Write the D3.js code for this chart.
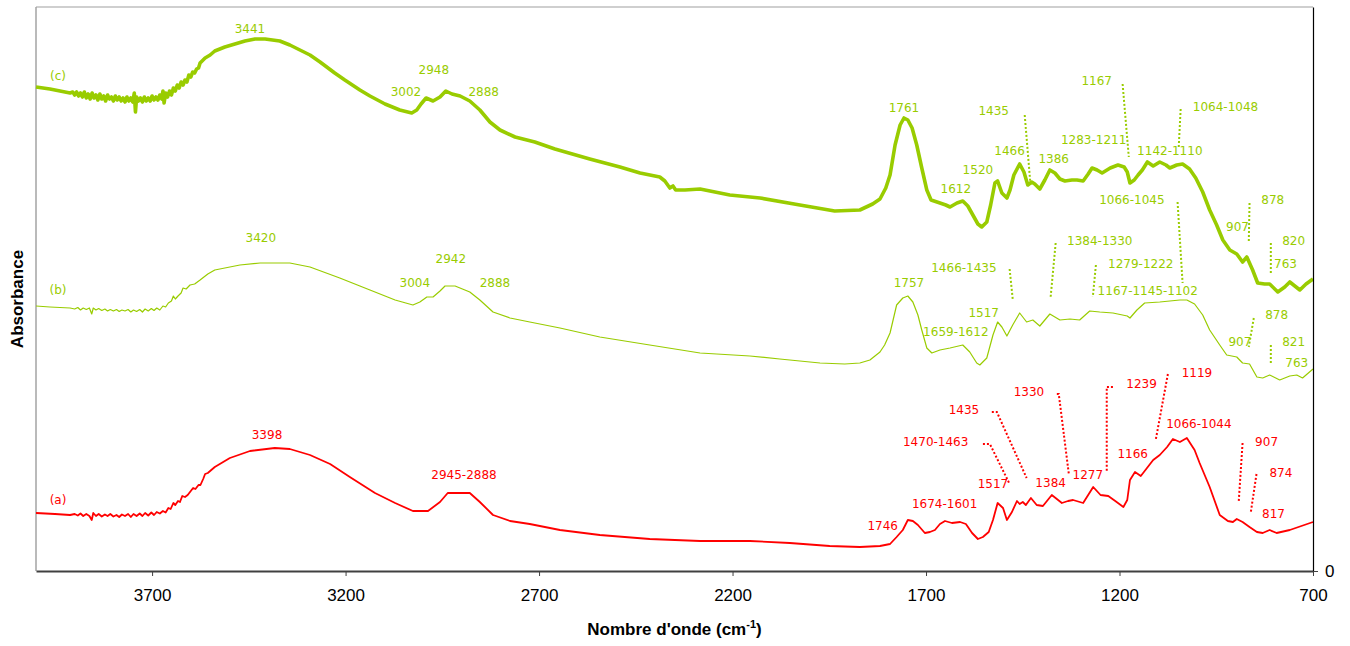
<!DOCTYPE html>
<html>
<head>
<meta charset="utf-8">
<script src="https://cdn.jsdelivr.net/npm/d3@7"></script>
<style>
  html, body { margin: 0; padding: 0; background: #fff; }
  svg { display: block; }
  .tick-label { font-family: "Liberation Sans", Arial, sans-serif; font-size: 17px; fill: #000; }
  .axis-title { font-family: "Liberation Sans", Arial, sans-serif; font-size: 17px; font-weight: bold; fill: #000; }
  .peak { font-family: "DejaVu Sans", Tahoma, sans-serif; font-size: 12px; }
</style>
</head>
<body>
<div id="chart"></div>
<script>
// Spectrum (a) — wavenumber (cm-1) / absorbance (a.u.)
const wnA = [4000,3951,3912,3900,3892,3885,3878,3870,3862,3856,3852,3845,3838,3830,3822,3815,3808,3800,3792,3785,3778,3770,3762,3755,3748,3740,3732,3725,3718,3710,3702,3695,3688,3680,3672,3665,3658,3652,3645,3640,3633,3628,3622,3615,3608,3600,3594,3588,3580,3575,3568,3563,3556,3550,3538,3499,3447,3383,3344,3292,3240,3189,3124,3072,3026,2987,2956,2936,2879,2853,2819,2775,2724,2646,2543,2414,2284,2155,2052,1949,1871,1819,1793,1776,1760,1747,1734,1721,1703,1690,1677,1664,1651,1633,1612,1597,1581,1566,1553,1538,1527,1515,1501,1491,1478,1465,1458,1450,1442,1429,1414,1398,1375,1349,1333,1320,1294,1281,1268,1249,1229,1211,1190,1180,1173,1160,1145,1129,1113,1096,1077,1062,1044,1026,1006,993,967,941,920,907,897,882,864,845,830,812,794,760,700];
const absA = [0.58,0.57,0.56,0.57,0.555,0.575,0.55,0.57,0.55,0.51,0.58,0.55,0.57,0.545,0.565,0.55,0.57,0.545,0.56,0.54,0.565,0.55,0.57,0.54,0.57,0.55,0.575,0.55,0.58,0.555,0.585,0.56,0.59,0.575,0.60,0.585,0.63,0.62,0.68,0.66,0.70,0.69,0.75,0.74,0.76,0.80,0.83,0.82,0.86,0.86,0.92,0.97,0.98,1.00,1.04,1.13,1.20,1.23,1.22,1.16,1.07,0.94,0.78,0.68,0.60,0.60,0.69,0.78,0.78,0.69,0.56,0.50,0.47,0.41,0.36,0.32,0.30,0.30,0.28,0.25,0.24,0.25,0.27,0.34,0.41,0.51,0.50,0.46,0.38,0.39,0.41,0.47,0.50,0.48,0.49,0.47,0.38,0.32,0.34,0.39,0.51,0.68,0.63,0.51,0.59,0.70,0.67,0.69,0.66,0.73,0.66,0.65,0.76,0.68,0.70,0.71,0.68,0.76,0.84,0.76,0.75,0.70,0.64,0.71,0.91,0.99,0.95,1.03,1.11,1.16,1.24,1.32,1.29,1.33,1.21,1.08,0.84,0.56,0.50,0.49,0.52,0.49,0.44,0.39,0.38,0.41,0.38,0.41,0.49];

// Spectrum (b)
const wnB = [4000,3964,3912,3900,3892,3885,3878,3870,3862,3856,3852,3845,3838,3830,3822,3815,3808,3800,3792,3785,3778,3770,3762,3755,3748,3740,3732,3725,3718,3710,3702,3695,3688,3680,3672,3665,3658,3650,3645,3640,3633,3625,3620,3612,3602,3590,3576,3556,3538,3473,3421,3344,3292,3215,3137,3072,3026,3008,2990,2974,2956,2943,2917,2879,2853,2819,2775,2724,2646,2543,2414,2284,2155,2078,1974,1910,1871,1845,1819,1807,1793,1776,1760,1747,1734,1721,1711,1698,1685,1664,1638,1605,1587,1569,1561,1543,1527,1515,1504,1491,1476,1458,1440,1424,1406,1380,1354,1328,1303,1277,1251,1217,1180,1173,1155,1135,1096,1070,1044,1026,1006,985,967,941,923,897,882,864,845,830,812,786,760,742,727,700];
const absB = [2.65,2.64,2.63,2.62,2.635,2.61,2.63,2.615,2.63,2.57,2.63,2.61,2.625,2.605,2.62,2.60,2.615,2.60,2.615,2.595,2.61,2.60,2.615,2.59,2.61,2.595,2.615,2.59,2.62,2.60,2.625,2.605,2.63,2.61,2.65,2.64,2.68,2.70,2.75,2.72,2.75,2.78,2.83,2.82,2.86,2.87,2.91,2.97,3.01,3.06,3.08,3.08,3.04,2.93,2.81,2.71,2.66,2.69,2.74,2.74,2.80,2.85,2.85,2.79,2.71,2.59,2.53,2.49,2.43,2.34,2.26,2.18,2.15,2.12,2.08,2.07,2.08,2.11,2.19,2.26,2.38,2.66,2.73,2.75,2.69,2.56,2.41,2.23,2.18,2.21,2.23,2.26,2.19,2.08,2.06,2.13,2.36,2.49,2.44,2.35,2.46,2.58,2.49,2.51,2.45,2.57,2.51,2.52,2.51,2.60,2.59,2.58,2.55,2.53,2.61,2.68,2.69,2.70,2.71,2.71,2.67,2.56,2.41,2.26,2.16,2.14,2.08,2.07,1.94,1.93,1.96,1.91,1.95,1.96,1.93,2.02];

// Spectrum (c)
const wnC = [4000,3964,3912,3905,3900,3895,3890,3885,3880,3875,3870,3865,3860,3855,3850,3845,3840,3835,3830,3825,3820,3815,3810,3805,3800,3795,3790,3785,3780,3775,3770,3765,3760,3755,3750,3746,3743,3740,3735,3730,3725,3720,3715,3710,3705,3700,3695,3690,3685,3680,3675,3672,3669,3665,3660,3655,3650,3645,3640,3635,3630,3625,3620,3615,3610,3605,3600,3595,3590,3585,3580,3576,3563,3550,3538,3512,3486,3460,3434,3408,3370,3344,3318,3292,3266,3228,3202,3163,3137,3098,3060,3029,3016,3005,2992,2974,2956,2941,2925,2904,2879,2853,2827,2801,2762,2711,2659,2569,2491,2439,2388,2375,2362,2354,2347,2323,2284,2207,2129,2026,1936,1871,1838,1819,1804,1793,1780,1767,1757,1747,1736,1724,1711,1698,1687,1664,1649,1638,1620,1605,1592,1579,1566,1556,1543,1533,1522,1515,1504,1491,1483,1473,1458,1447,1437,1427,1419,1406,1393,1380,1367,1354,1341,1323,1310,1294,1281,1271,1258,1245,1224,1204,1188,1180,1173,1162,1152,1141,1128,1113,1096,1080,1070,1052,1037,1019,1003,985,967,949,933,915,897,882,871,856,843,825,812,791,773,760,747,734,718,700];
const absC = [4.84,4.82,4.78,4.79,4.76,4.79,4.75,4.78,4.74,4.79,4.73,4.77,4.72,4.78,4.73,4.76,4.71,4.77,4.72,4.75,4.70,4.76,4.72,4.74,4.70,4.75,4.71,4.74,4.70,4.73,4.69,4.74,4.70,4.73,4.69,4.78,4.59,4.74,4.70,4.73,4.69,4.74,4.70,4.73,4.70,4.75,4.71,4.74,4.71,4.76,4.72,4.80,4.68,4.78,4.74,4.80,4.76,4.83,4.80,4.86,4.83,4.89,4.86,4.91,4.89,4.96,4.94,4.99,4.98,5.02,5.03,5.08,5.13,5.16,5.20,5.24,5.27,5.30,5.32,5.32,5.30,5.26,5.21,5.16,5.09,4.98,4.91,4.81,4.75,4.67,4.61,4.58,4.61,4.67,4.73,4.70,4.74,4.80,4.77,4.75,4.70,4.61,4.49,4.41,4.34,4.29,4.22,4.12,4.04,3.98,3.94,3.90,3.83,3.85,3.81,3.81,3.82,3.76,3.73,3.66,3.60,3.61,3.67,3.72,3.83,3.96,4.26,4.46,4.53,4.51,4.43,4.26,4.03,3.81,3.71,3.68,3.66,3.64,3.68,3.70,3.65,3.56,3.47,3.44,3.49,3.66,3.88,3.90,3.78,3.73,3.81,3.96,4.07,3.99,3.86,3.89,3.87,3.82,3.91,4.01,3.98,3.92,3.90,3.91,3.91,3.90,3.97,4.03,4.01,3.98,4.03,4.06,4.04,3.99,3.88,3.91,3.96,4.01,4.09,4.05,4.09,4.06,4.03,4.06,4.07,4.02,3.93,3.79,3.61,3.46,3.31,3.21,3.17,3.09,3.14,3.01,2.88,2.87,2.87,2.79,2.84,2.89,2.85,2.81,2.87,2.92];

// Axis ticks
const xTicks = [3700, 3200, 2700, 2200, 1700, 1200, 700];

// Peak labels: [text, wavenumber, absorbance]
const labelsC = [["(c)",3943,4.91],["3441",3447,5.38],["3002",3044,4.75],["2948",2972,4.97],["2888",2843,4.75],
  ["1761",1757,4.59],["1435",1525,4.56],["1167",1259,4.86],["1064-1048",926,4.60],["1466",1484,4.16],
  ["1520",1566,3.97],["1612",1623,3.78],["1386",1370,4.08],["1283-1211",1267,4.27],["1142-1110",1070,4.16],
  ["878",804,3.67],["907",895,3.40],["820",750,3.26],["763",771,3.03]];
const labelsB = [["(b)",3943,2.77],["3420",3419,3.29],["3004",3021,2.84],["2942",2928,3.08],["2888",2814,2.84],
  ["1757",1744,2.84],["1466-1435",1602,2.99],["1384-1330",1251,3.26],["1279-1222",1145,3.03],
  ["1167-1145-1102",1127,2.76],["1066-1045",1168,3.67],["1517",1551,2.54],["1659-1612",1623,2.35],
  ["878",794,2.52],["907",889,2.25],["821",750,2.25],["763",742,2.04]];
const labelsA = [["(a)",3943,0.67],["3398",3403,1.32],["2945-2888",2894,0.92],["1330",1434,1.75],["1239",1143,1.83],
  ["1119",1000,1.94],["1435",1602,1.57],["1066-1044",995,1.43],["1470-1463",1675,1.25],["907",820,1.25],
  ["1166",1166,1.13],["874",783,0.94],["1277",1282,0.92],["1517",1527,0.83],["1384",1378,0.84],
  ["1674-1601",1652,0.63],["1746",1812,0.41],["817",802,0.53]];

// Dotted leader lines: lists of [wavenumber, absorbance]
const leadersGreen = [
  [[1445,4.56],[1430,3.86]], [[1192,4.87],[1176,4.14]], [[1042,4.62],[1047,4.24]],
  [[1050,3.69],[1037,2.88]], [[864,3.68],[866,3.28]], [[809,3.28],[809,2.97]],
  [[1365,3.28],[1378,2.74]], [[1484,3.02],[1476,2.72]], [[1261,3.06],[1269,2.74]],
  [[853,2.53],[866,2.24]], [[809,2.26],[809,2.06]]];
const leadersRed = [
  [[1553,1.27],[1535,1.27],[1484,0.87]], [[1530,1.59],[1517,1.59],[1440,0.93]],
  [[1362,1.77],[1357,1.77],[1331,0.97]], [[1217,1.84],[1233,1.84],[1233,0.99]],
  [[1075,1.97],[1106,1.32]], [[882,1.28],[892,0.69]], [[846,0.97],[861,0.58]]];

const GREEN = "#99cc00", RED = "#ff0000";
const W = 1350, H = 646;
const M = { left: 36, right: 37, top: 7, bottom: 75 };

const svg = d3.select("#chart").append("svg").attr("width", W).attr("height", H);
const x = d3.scaleLinear().domain([4000, 700]).range([M.left, W - M.right]);
const y = d3.scaleLinear().domain([0, 5.64]).range([H - M.bottom, M.top]);

const x0 = x.range()[0], x1 = x.range()[1], y0 = y.range()[0], y1 = y.range()[1];

// plot frame: grey left + top, dark bottom axis, black right axis
svg.append("line").attr("x1", x0).attr("x2", x0).attr("y1", y1).attr("y2", y0)
  .attr("stroke", "#8c8c8c").attr("stroke-width", 1.2);
svg.append("line").attr("x1", x0).attr("x2", x1).attr("y1", y1).attr("y2", y1)
  .attr("stroke", "#a0a0a0").attr("stroke-width", 1.2);

const lineGen = d3.line().x(d => x(d[0])).y(d => y(d[1]));
const zip = (a, b) => a.map((v, i) => [v, b[i]]);

svg.append("path").datum(zip(wnA, absA)).attr("d", lineGen)
  .attr("fill", "none").attr("stroke", RED).attr("stroke-width", 1.8).attr("stroke-linejoin", "round");
svg.append("path").datum(zip(wnB, absB)).attr("d", lineGen)
  .attr("fill", "none").attr("stroke", GREEN).attr("stroke-width", 1.2).attr("stroke-linejoin", "round");
svg.append("path").datum(zip(wnC, absC)).attr("d", lineGen)
  .attr("fill", "none").attr("stroke", GREEN).attr("stroke-width", 3.6).attr("stroke-linejoin", "round");

// leaders
svg.selectAll(".lead-g").data(leadersGreen).join("path")
  .attr("d", lineGen).attr("fill", "none").attr("stroke", GREEN)
  .attr("stroke-width", 2).attr("stroke-dasharray", "2,2");
svg.selectAll(".lead-r").data(leadersRed).join("path")
  .attr("d", lineGen).attr("fill", "none").attr("stroke", RED)
  .attr("stroke-width", 2).attr("stroke-dasharray", "2,2");

// peak labels
function drawLabels(list, color) {
  svg.append("g").selectAll("text").data(list).join("text")
    .attr("class", "peak")
    .attr("x", d => x(d[1])).attr("y", d => y(d[2]))
    .attr("text-anchor", "middle").attr("fill", color)
    .text(d => d[0]);
}
drawLabels(labelsC, GREEN);
drawLabels(labelsB, GREEN);
drawLabels(labelsA, RED);

// x axis
const xAxis = svg.append("g").attr("transform", `translate(0,${y0})`)
  .call(d3.axisBottom(x).tickValues(xTicks).tickSize(5).tickSizeOuter(0)
    .tickPadding(10).tickFormat(d3.format("d")));
xAxis.select(".domain").attr("stroke", "#404040").attr("stroke-width", 2.2);
xAxis.selectAll(".tick line").attr("stroke", "#404040").attr("stroke-width", 1);
xAxis.selectAll(".tick text").attr("class", "tick-label").attr("dy", "0.9em");

// right y axis with only the 0 tick
const yAxis = svg.append("g").attr("transform", `translate(${x1},0)`)
  .call(d3.axisRight(y).tickValues([0]).tickSize(5).tickSizeOuter(0)
    .tickPadding(7).tickFormat(d3.format("d")));
yAxis.select(".domain").attr("stroke", "#000").attr("stroke-width", 1.2);
yAxis.selectAll(".tick line").attr("stroke", "#404040");
yAxis.selectAll(".tick text").attr("class", "tick-label");

// axis titles
const xt = svg.append("text").attr("class", "axis-title")
  .attr("x", (x0 + x1) / 2).attr("y", 635).attr("text-anchor", "middle");
xt.append("tspan").text("Nombre d'onde (cm");
xt.append("tspan").attr("font-size", "11px").attr("dy", "-7").text("-1");
xt.append("tspan").attr("dy", "7").text(")");

svg.append("text").attr("class", "axis-title")
  .attr("transform", `translate(23,${(y0 + y1) / 2 + 10}) rotate(-90)`)
  .attr("text-anchor", "middle").text("Absorbance");
</script>
</body>
</html>
